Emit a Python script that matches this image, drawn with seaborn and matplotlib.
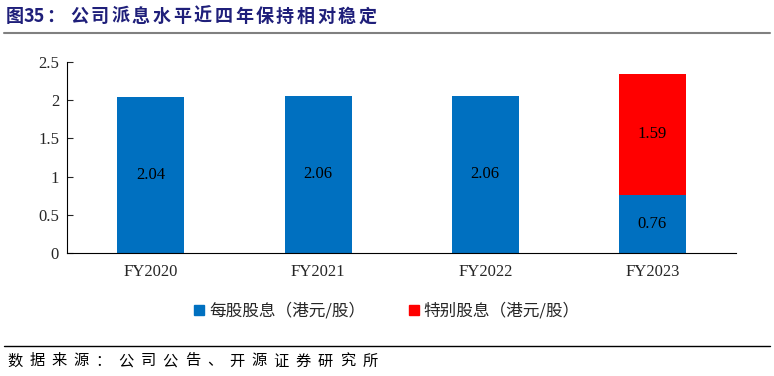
import matplotlib
matplotlib.use("Agg")
import matplotlib.pyplot as plt
import seaborn as sns
import pandas as pd
from matplotlib.lines import Line2D
from matplotlib.patches import Patch

# 数据
years = ["FY2020", "FY2021", "FY2022", "FY2023"]
regular = [2.04, 2.06, 2.06, 0.76]
special = [0, 0, 0, 1.59]
series_names = ["每股股息（港元/股）", "特别股息（港元/股）"]
colors = ["#0070C0", "#FF0000"]
title_text = "图35：公司派息水平近四年保持相对稳定"
source_text = "数据来源：公司公告、开源证券研究所"

df = pd.DataFrame({"year": years, "regular": regular, "special": special})

sns.set_theme(style="white")
plt.rcParams["font.family"] = ["Noto Sans CJK SC", "DejaVu Sans"]
serif = ["Liberation Serif", "DejaVu Serif"]

W, H = 774, 376
fig = plt.figure(figsize=(W / 100, H / 100), dpi=100)
ax = fig.add_axes([0.087, 0.327, 0.864, 0.508])

sns.barplot(data=df, x="year", y="regular", color=colors[0], width=0.4,
            saturation=1, linewidth=0, ax=ax)
mask = df["special"] > 0
sns.barplot(data=df[mask], x="year", y="special", color=colors[1],
            width=0.4, saturation=1, linewidth=0,
            bottom=df.loc[mask, "regular"].values, ax=ax, order=years)

# 数值标签
for i, (r, s) in enumerate(zip(regular, special)):
    ax.text(i, r / 2, f"{r:.2f}", ha="center", va="center", fontsize=12,
            family=serif, color="black")
    if s > 0:
        ax.text(i, r + s / 2, f"{s:.2f}", ha="center", va="center", fontsize=12,
                family=serif, color="black")

ax.set_xlim(-0.5, 3.5)
ax.set_ylim(0, 2.5)
ax.set_yticks([0, 0.5, 1, 1.5, 2, 2.5])
ax.set_yticklabels(["0", "0.5", "1", "1.5", "2", "2.5"], family=serif, fontsize=12)
ax.set_xticklabels(years, family=serif, fontsize=12)
ax.set_xlabel("")
ax.set_ylabel("")
for sp in ["top", "right"]:
    ax.spines[sp].set_visible(False)
for sp in ["left", "bottom"]:
    ax.spines[sp].set_color("black")
    ax.spines[sp].set_linewidth(0.8)
ax.tick_params(axis="y", direction="in", length=4, width=0.8, left=True, pad=6)
ax.tick_params(axis="x", length=0, pad=8)

handles = [Patch(color=c) for c in colors]
fig.legend(handles, series_names, loc="center", bbox_to_anchor=(0.5, 0.172),
           ncol=2, frameon=False, fontsize=12, handlelength=0.6, handleheight=0.6,
           handletextpad=0.3, columnspacing=2.6)


def spaced(tokens, x_px, y_px, step_px, **kw):
    # 逐字排版，模拟原图的字距
    x = x_px
    for t in tokens:
        if isinstance(t, tuple):
            t, w = t
        else:
            w = step_px
        fig.text(x / W, 1 - y_px / H, t, ha="left", va="center", **kw)
        x += w


# 标题与来源
title_tokens = [("图", 18), ("35", 22), ("：", 24)] + list(title_text[4:])
spaced(title_tokens, 6, 16, 20.6, fontsize=13, fontweight="bold", color="#1F1F7A")
fig.add_artist(Line2D([0.005, 0.995], [1 - 33 / H] * 2, color="#808080", lw=1.5))
fig.add_artist(Line2D([0.005, 0.995], [1 - 346 / H] * 2, color="black", lw=1))
spaced(list(source_text), 7, 361, 22.2, fontsize=11, color="black")

fig.savefig("out.png", dpi=100)
